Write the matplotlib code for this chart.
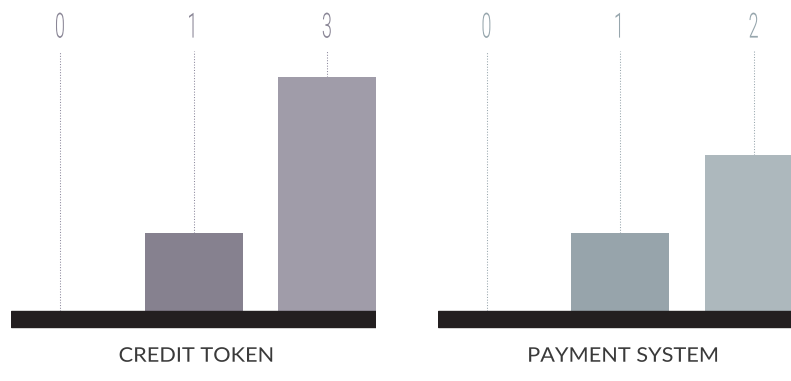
import matplotlib.pyplot as plt
from matplotlib.patheffects import AbstractPathEffect
from matplotlib.transforms import Affine2D

# counts for each group
credit_labels = ['0', '1', '3']
credit_values = [0, 1, 3]
payment_labels = ['0', '1', '2']
payment_values = [0, 1, 2]

credit_title = 'CREDIT TOKEN'
payment_title = 'PAYMENT SYSTEM'

credit_bar_colors = ['#86818f', '#86818f', '#a09ca9']
credit_text_color = '#8a8696'
credit_dot_color = '#8c889c'
payment_bar_colors = ['#97a4ab', '#97a4ab', '#adb8bd']
payment_text_color = '#97a6ad'
payment_dot_color = '#98a6ad'


class Squeeze(AbstractPathEffect):
    """Scale glyphs horizontally around their own centre."""

    def __init__(self, sx):
        super().__init__()
        self.sx = sx

    def draw_path(self, renderer, gc, tpath, affine, rgbFace=None):
        ext = tpath.get_extents()
        cx = (ext.x0 + ext.x1) / 2
        squeeze = Affine2D().translate(-cx, 0).scale(self.sx, 1).translate(cx, 0)
        renderer.draw_path(gc, tpath, squeeze + affine, rgbFace)


W, H = 791, 381
unit = 78.0      # pixels per count
step = 133.5     # pixels between columns
bar_w = 98 / step
ymin, ymax = -0.25, 3.9
line_top = 3.33
num_y = 3.63


def panel(left_px, labels, values, title, bar_colors, text_color, dot_color):
    width_px = (2 + bar_w) * step
    bottom_px = 311 + (-ymin) * unit
    ax = fig.add_axes([left_px / W, (H - bottom_px) / H,
                       width_px / W, (ymax - ymin) * unit / H])
    ax.set_xlim(-bar_w / 2, 2 + bar_w / 2)
    ax.set_ylim(ymin, ymax)
    ax.axis('off')

    xs = range(len(values))
    ax.bar(xs, values, width=bar_w, color=bar_colors, zorder=2)

    # black floor under the bars
    ax.axhspan(-16 / unit, 0, color='#231f20', zorder=3)

    for x, v, lab in zip(xs, values, labels):
        ax.plot([x, x], [v, line_top], color=dot_color, lw=0.75,
                dashes=(1, 1.6), zorder=1)
        ax.text(x, num_y, lab, ha='center', va='center', fontsize=25,
                family='Roboto', fontweight=300, fontstyle='normal',
                color=text_color, path_effects=[Squeeze(0.52)])

    ax.text(1.022, -0.58, title, ha='center', va='center', fontsize=14.5,
            family='Lato', color='#3a3a3a', path_effects=[Squeeze(1.08)])
    return ax


fig = plt.figure(figsize=(W / 100, H / 100), dpi=100)
fig.patch.set_facecolor('white')

panel(11, credit_labels, credit_values, credit_title,
      credit_bar_colors, credit_text_color, credit_dot_color)
panel(437.5, payment_labels, payment_values, payment_title,
      payment_bar_colors, payment_text_color, payment_dot_color)

fig.savefig('out.png', dpi=100)
